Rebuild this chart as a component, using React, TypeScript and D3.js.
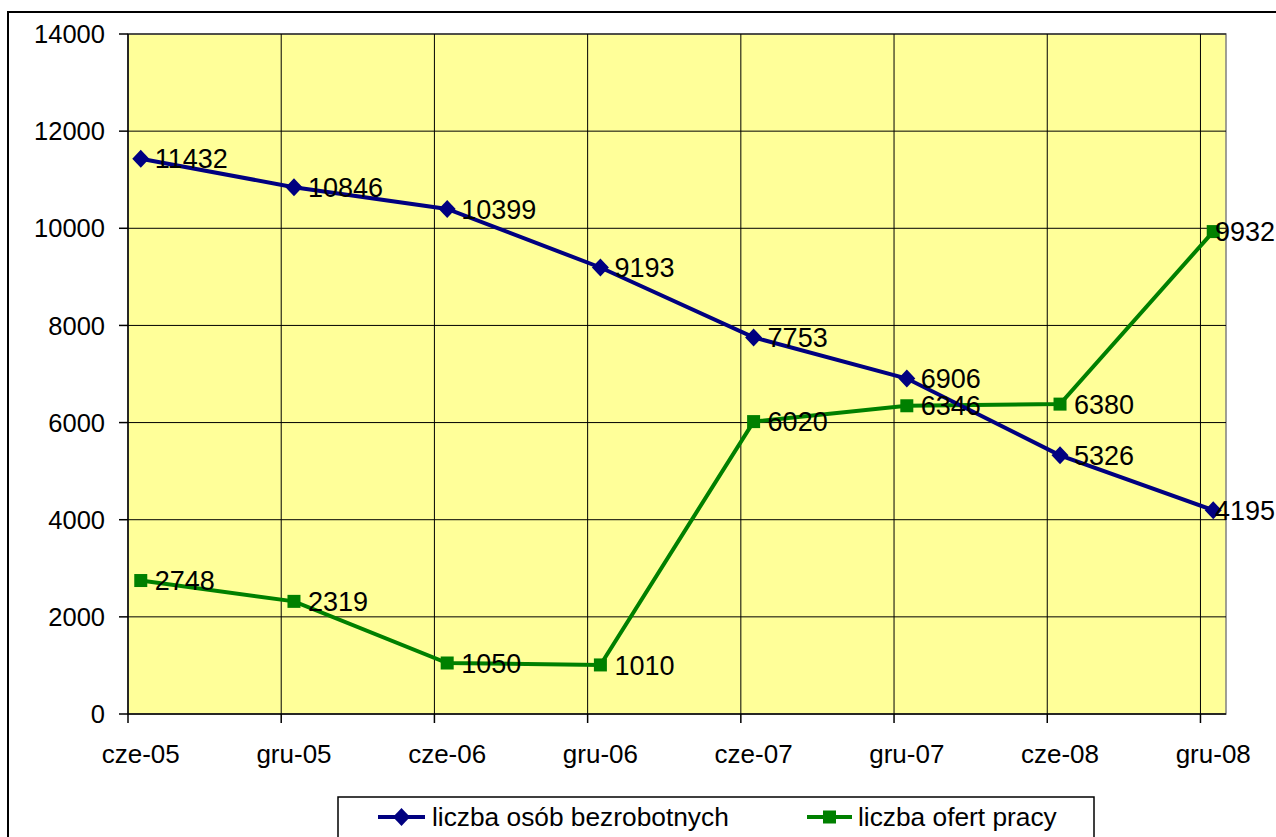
import React from "react";
import * as d3 from "d3";

// half-year periods (Excel date axis, one slot per month)
const periods = ["cze-05", "gru-05", "cze-06", "gru-06", "cze-07", "gru-07", "cze-08", "gru-08"];
const unemployed = [11432, 10846, 10399, 9193, 7753, 6906, 5326, 4195];
const jobOffers = [2748, 2319, 1050, 1010, 6020, 6346, 6380, 9932];
const yTicks = [0, 2000, 4000, 6000, 8000, 10000, 12000, 14000];
const seriesNames = ["liczba osób bezrobotnych", "liczba ofert pracy"];

const W = 1276;
const H = 837;
const font = "'Liberation Sans', Arial, sans-serif";
const labelSize = 27;

const App: React.FC = () => {
  const plot = { left: 128, right: 1226, top: 34, bottom: 714 };

  // month index 0 = June 2005, axis runs to end of Dec 2008
  const x = d3.scaleLinear().domain([0, 43]).range([plot.left, plot.right]);
  const y = d3.scaleLinear().domain([0, 14000]).range([plot.bottom, plot.top]);

  const monthOf = (i: number) => i * 6;
  const px = (i: number) => x(monthOf(i) + 0.5);

  const line = d3
    .line<number>()
    .x((_, i) => px(i))
    .y((d) => y(d));

  const blue = "#000080";
  const green = "#008000";

  // labels sit right of the point, pushed back inside the chart near the edge
  const labelPos = (v: number, i: number) => {
    const w = String(v).length * 0.556 * labelSize;
    const start = px(i) + 14;
    return start + w > W - 2 ? { x: W - 1, anchor: "end" } : { x: start, anchor: "start" };
  };

  const label = (v: number, i: number, key: string) => {
    const p = labelPos(v, i);
    return (
      <text
        key={key}
        x={p.x}
        y={y(v)}
        dy="0.36em"
        textAnchor={p.anchor as any}
        fontFamily={font}
        fontSize={labelSize}
        fill="#000"
      >
        {v}
      </text>
    );
  };

  return (
    <svg
      width={W}
      height={H}
      style={{ position: "absolute", left: 0, top: 0, display: "block" }}
    >
      <rect x={0} y={0} width={W} height={H} fill="#fff" />
      {/* chart area border */}
      <rect x={8} y={12} width={W + 20} height={H + 20} fill="#fff" stroke="#000" strokeWidth={2} />

      {/* plot area */}
      <rect
        x={plot.left}
        y={plot.top}
        width={plot.right - plot.left}
        height={plot.bottom - plot.top}
        fill="#FFFF99"
        stroke="#808080"
        strokeWidth={1.5}
      />

      {/* horizontal gridlines */}
      {yTicks.slice(1).map((t) => (
        <line key={"hg" + t} x1={plot.left} x2={plot.right} y1={y(t)} y2={y(t)} stroke="#000" strokeWidth={1} />
      ))}
      {/* vertical gridlines */}
      {periods.slice(1).map((_, k) => (
        <line
          key={"vg" + k}
          x1={x(monthOf(k + 1))}
          x2={x(monthOf(k + 1))}
          y1={plot.top}
          y2={plot.bottom}
          stroke="#000"
          strokeWidth={1}
        />
      ))}

      {/* axes */}
      <line x1={plot.left} x2={plot.left} y1={plot.top} y2={plot.bottom} stroke="#000" strokeWidth={1.5} />
      <line x1={plot.left} x2={plot.right} y1={plot.bottom} y2={plot.bottom} stroke="#000" strokeWidth={1.5} />

      {yTicks.map((t) => (
        <g key={"yt" + t}>
          <line x1={plot.left - 9} x2={plot.left} y1={y(t)} y2={y(t)} stroke="#000" strokeWidth={1.5} />
          <text x={105} y={y(t)} dy="0.36em" textAnchor="end" fontFamily={font} fontSize={25.5} fill="#000">
            {t}
          </text>
        </g>
      ))}

      {periods.map((p, i) => (
        <g key={"xt" + p}>
          <line
            x1={x(monthOf(i))}
            x2={x(monthOf(i))}
            y1={plot.bottom}
            y2={plot.bottom + 9}
            stroke="#000"
            strokeWidth={1.5}
          />
          <text x={px(i)} y={763} textAnchor="middle" fontFamily={font} fontSize={26} fill="#000">
            {p}
          </text>
        </g>
      ))}

      {/* green series: job offers */}
      <path d={line(jobOffers) || ""} fill="none" stroke={green} strokeWidth={4} />
      {jobOffers.map((v, i) => (
        <rect key={"gm" + i} x={px(i) - 6.5} y={y(v) - 6.5} width={13} height={13} fill={green} />
      ))}

      {/* blue series: unemployed */}
      <path d={line(unemployed) || ""} fill="none" stroke={blue} strokeWidth={4} />
      {unemployed.map((v, i) => (
        <path
          key={"bm" + i}
          d={`M${px(i)},${y(v) - 9}L${px(i) + 8.5},${y(v)}L${px(i)},${y(v) + 9}L${px(i) - 8.5},${y(v)}Z`}
          fill={blue}
        />
      ))}

      {/* data labels */}
      {jobOffers.map((v, i) => label(v, i, "gl" + i))}
      {unemployed.map((v, i) => label(v, i, "bl" + i))}

      {/* legend */}
      <rect x={338} y={797} width={756} height={60} fill="#fff" stroke="#000" strokeWidth={1.5} />
      <line x1={378} x2={425} y1={817} y2={817} stroke={blue} strokeWidth={4} />
      <path d="M401.5,808L410,817L401.5,826L393,817Z" fill={blue} />
      <text x={432} y={826} fontFamily={font} fontSize={26.3} fill="#000">
        {seriesNames[0]}
      </text>
      <line x1={807} x2={852} y1={817} y2={817} stroke={green} strokeWidth={4} />
      <rect x={823} y={810.5} width={13} height={13} fill={green} />
      <text x={858} y={826} fontFamily={font} fontSize={26.3} fill="#000">
        {seriesNames[1]}
      </text>
    </svg>
  );
};

export default App;
